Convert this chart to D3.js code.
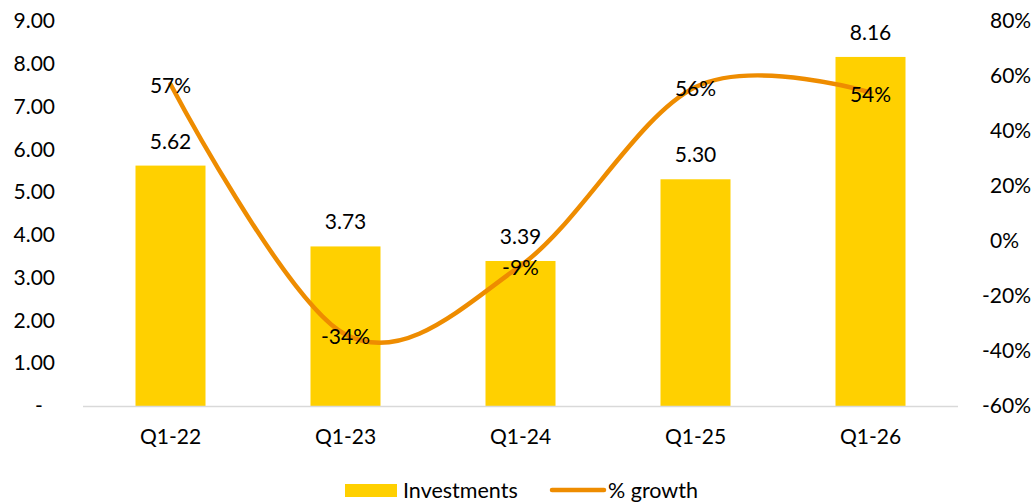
<!DOCTYPE html>
<html>
<head>
<meta charset="utf-8">
<script src="https://cdn.jsdelivr.net/npm/d3@7"></script>
<style>
  body { margin: 0; background: #fff; }
  text { font-family: Lato, "Open Sans", sans-serif; font-size: 21px; fill: #000; }
</style>
</head>
<body>
<div id="chart"></div>
<script>
// chart data
var quarters = ["Q1-22", "Q1-23", "Q1-24", "Q1-25", "Q1-26"];
var investments = [5.62, 3.73, 3.39, 5.30, 8.16];
var growth = [0.57, -0.34, -0.09, 0.56, 0.54];
var leftTicks = [0, 1, 2, 3, 4, 5, 6, 7, 8, 9];
var rightTicks = [-0.6, -0.4, -0.2, 0, 0.2, 0.4, 0.6, 0.8];

var W = 1031, H = 503;
var plot = { left: 83, right: 958, top: 21, bottom: 406 };

// plain hyphen for negatives, like excel does
var loc = d3.formatLocale({ decimal: ".", thousands: ",", grouping: [3], currency: ["", ""], minus: "-" });
var pct = loc.format(".0%");
var num = loc.format(".2f");

var svg = d3.select("#chart").append("svg")
    .attr("width", W)
    .attr("height", H);

var x = d3.scaleBand()
    .domain(quarters)
    .range([plot.left, plot.right])
    .paddingInner(0.6)
    .paddingOuter(0.3);

var y = d3.scaleLinear().domain([0, 9]).range([plot.bottom, plot.top]);
var y2 = d3.scaleLinear().domain([-0.6, 0.8]).range([plot.bottom, plot.top]);

// left axis
var gL = svg.append("g")
    .attr("transform", "translate(55,0)")
    .call(d3.axisLeft(y).tickValues(leftTicks).tickSize(0).tickPadding(0)
        .tickFormat(function (d) { return d === 0 ? "-\u2007" : num(d); }));
gL.select(".domain").remove();
gL.selectAll("text").attr("fill", "#000").style("font-size", "21px");

// right axis
var gR = svg.append("g")
    .attr("transform", "translate(990,0)")
    .call(d3.axisRight(y2).tickValues(rightTicks).tickSize(0).tickPadding(0)
        .tickFormat(pct));
gR.select(".domain").remove();
gR.selectAll("text").attr("fill", "#000").style("font-size", "21px")
    .attr("dx", function (d) { return d < 0 ? -8 : 0; });

// bars
svg.append("g").selectAll("rect")
    .data(investments)
    .enter()
    .append("rect")
    .attr("x", function (d, i) { return x(quarters[i]); })
    .attr("width", x.bandwidth())
    .attr("y", function (d) { return y(d); })
    .attr("height", function (d) { return y(0) - y(d); })
    .attr("fill", "#FFD000");

// x axis line
svg.append("line")
    .attr("x1", plot.left).attr("x2", plot.right)
    .attr("y1", y(0) + 0.5).attr("y2", y(0) + 0.5)
    .attr("stroke", "#d9d9d9")
    .attr("stroke-width", 1.5);

// category labels
svg.append("g").selectAll("text")
    .data(quarters)
    .enter()
    .append("text")
    .attr("x", function (d) { return x(d) + x.bandwidth() / 2; })
    .attr("y", 444)
    .attr("text-anchor", "middle")
    .text(function (d) { return d; });

// bar value labels
svg.append("g").selectAll("text")
    .data(investments)
    .enter()
    .append("text")
    .attr("x", function (d, i) { return x(quarters[i]) + x.bandwidth() / 2; })
    .attr("y", function (d) { return y(d) - 17; })
    .attr("text-anchor", "middle")
    .text(function (d) { return num(d); });

// growth line, smoothed like excel
var line = d3.line()
    .x(function (d, i) { return x(quarters[i]) + x.bandwidth() / 2; })
    .y(function (d) { return y2(d); })
    .curve(d3.curveCatmullRom.alpha(0));

svg.append("path")
    .datum(growth)
    .attr("d", line)
    .attr("fill", "none")
    .attr("stroke", "#EE8C00")
    .attr("stroke-width", 4.5)
    .attr("stroke-linecap", "round");

// growth labels, centred on the points
svg.append("g").selectAll("text")
    .data(growth)
    .enter()
    .append("text")
    .attr("x", function (d, i) { return x(quarters[i]) + x.bandwidth() / 2; })
    .attr("y", function (d) { return y2(d) + 9; })
    .attr("text-anchor", "middle")
    .text(function (d) { return pct(d); });

// legend
var lg = svg.append("g");
lg.append("rect")
    .attr("x", 345).attr("y", 484)
    .attr("width", 52).attr("height", 13)
    .attr("fill", "#FFD000");
lg.append("text").attr("x", 403).attr("y", 498).style("font-size", "21.5px").text("Investments");
lg.append("line")
    .attr("x1", 552).attr("x2", 604)
    .attr("y1", 490).attr("y2", 490)
    .attr("stroke", "#EE8C00")
    .attr("stroke-width", 4.5)
    .attr("stroke-linecap", "round");
lg.append("text").attr("x", 608).attr("y", 498).style("font-size", "21.5px").text("% growth");
</script>
</body>
</html>
